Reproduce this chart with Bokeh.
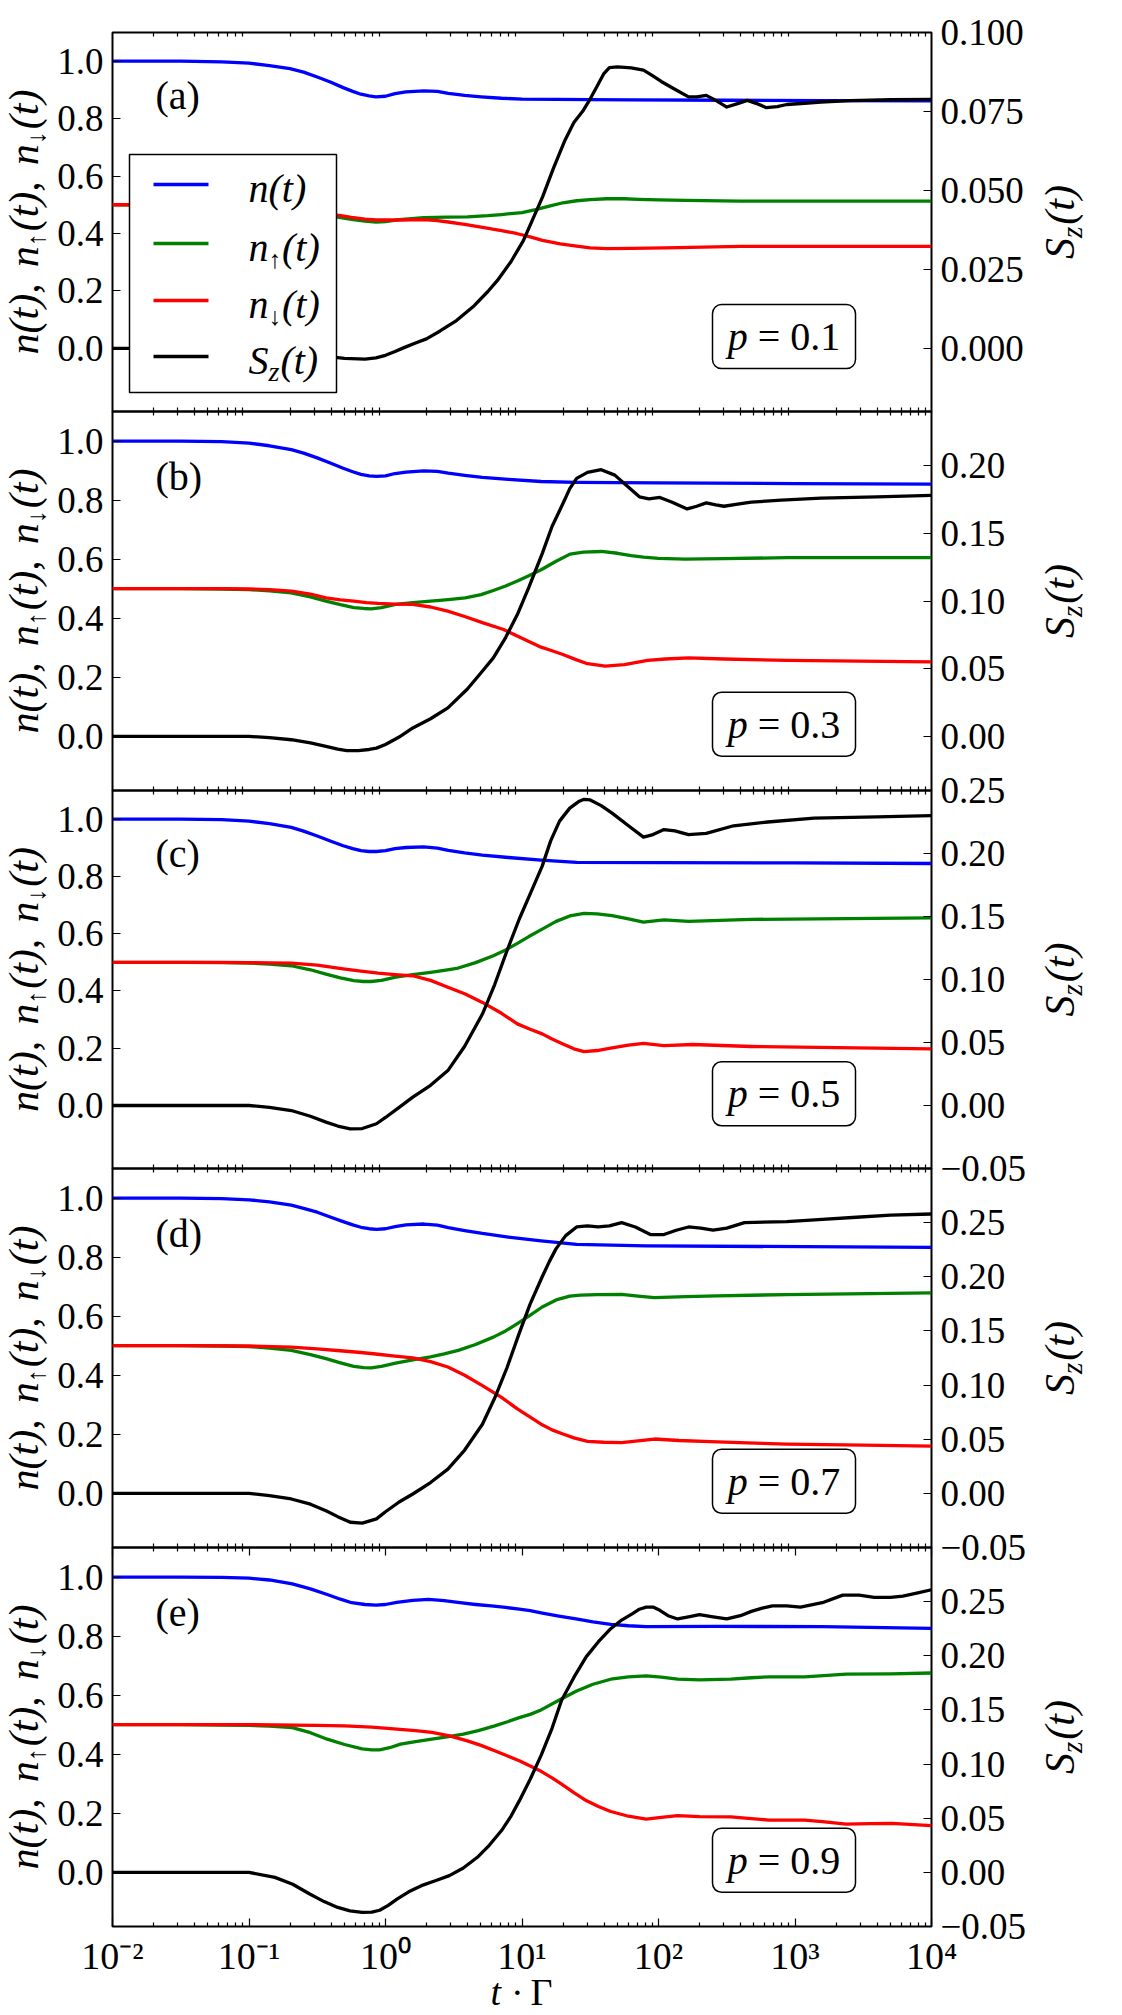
import math
from bokeh.plotting import figure
from bokeh.layouts import column
from bokeh.models import Range1d, LinearAxis, LogAxis, FixedTicker, Label, BoxAnnotation, Arrow
from bokeh.embed import file_html
from bokeh.resources import INLINE

# ---------------------------------------------------------------------------
# Data: sample points are log10(t*Gamma); n, n_up, n_down on the left axis,
# S_z on the right axis.
# ---------------------------------------------------------------------------
p_values = [0.1, 0.3, 0.5, 0.7, 0.9]
panel_tags = ["(a)", "(b)", "(c)", "(d)", "(e)"]

# (a) p = 0.1
lg_a_n = [-2, -1.5, -1.2, -1.0, -0.85, -0.7, -0.6, -0.5, -0.4, -0.31, -0.24, -0.18, -0.12, -0.07, 0.0, 0.07, 0.15,
          0.28, 0.38, 0.46, 0.58, 0.7, 0.85, 1.0, 1.25, 1.5, 1.8, 2.5, 3.2, 4.0]
a_n = [1.0, 1.0, 0.998, 0.993, 0.985, 0.974, 0.962, 0.945, 0.927, 0.908, 0.895, 0.885, 0.879, 0.876, 0.878, 0.887,
       0.893, 0.897, 0.895, 0.888, 0.881, 0.876, 0.871, 0.868, 0.867, 0.866, 0.865, 0.864, 0.863, 0.862]
lg_a_up = [-2, -1.5, -1.2, -1.0, -0.85, -0.7, -0.55, -0.45, -0.35, -0.25, -0.15, -0.07, 0.0, 0.1, 0.28, 0.45, 0.6,
           0.75, 0.85, 1.0, 1.1, 1.2, 1.3, 1.4, 1.5, 1.62, 1.75, 1.85, 2.0, 2.2, 2.6, 3.2, 4.0]
a_up = [0.5, 0.5, 0.499, 0.497, 0.494, 0.488, 0.477, 0.467, 0.457, 0.449, 0.443, 0.44, 0.441, 0.448, 0.455, 0.457,
        0.458, 0.462, 0.466, 0.473, 0.483, 0.495, 0.507, 0.514, 0.518, 0.521, 0.521, 0.519, 0.517, 0.515, 0.513,
        0.513, 0.513]
lg_a_dn = [-2, -1.5, -1.2, -1.0, -0.85, -0.7, -0.55, -0.45, -0.35, -0.25, -0.15, -0.07, 0.1, 0.28, 0.38, 0.46, 0.58,
           0.7, 0.85, 0.96, 1.06, 1.15, 1.28, 1.4, 1.5, 1.62, 1.8, 2.05, 2.6, 3.2, 4.0]
a_dn = [0.5, 0.5, 0.499, 0.498, 0.496, 0.493, 0.484, 0.474, 0.464, 0.456, 0.45, 0.447, 0.447, 0.448, 0.445, 0.44,
        0.432, 0.422, 0.41, 0.4, 0.388, 0.376, 0.364, 0.356, 0.35, 0.347, 0.348, 0.35, 0.355, 0.355, 0.355]
lg_a_sz = [-2, -1.5, -1.0, -0.8, -0.6, -0.45, -0.3, -0.15, -0.07, 0.0, 0.07, 0.14, 0.22, 0.3, 0.4, 0.52, 0.65, 0.75,
           0.82, 0.92, 1.01, 1.08, 1.15, 1.23, 1.315, 1.38, 1.45, 1.5, 1.55, 1.6, 1.64, 1.7, 1.8, 1.89, 1.95, 2.02,
           2.1, 2.22, 2.28, 2.35, 2.42, 2.5, 2.58, 2.65, 2.72, 2.79, 2.87, 2.94, 3.07, 3.19, 3.4, 3.7, 4.0]
a_sz = [0.0, 0.0, 0.0, -0.0005, -0.0015, -0.0025, -0.0032, -0.0034, -0.003, -0.0022, -0.001, 0.0003, 0.0017, 0.003,
        0.0055, 0.0088, 0.0135, 0.018, 0.0215, 0.0275, 0.0341, 0.041, 0.0479, 0.057, 0.0659, 0.0715, 0.0754, 0.079,
        0.083, 0.087, 0.0889, 0.0891, 0.0888, 0.0881, 0.0865, 0.0845, 0.0825, 0.0796, 0.0796, 0.0801, 0.0785, 0.0764,
        0.0775, 0.0785, 0.0775, 0.0762, 0.0765, 0.0772, 0.0776, 0.078, 0.0784, 0.0787, 0.0788]

# (b) p = 0.3
lg_b_n = [-2, -1.5, -1.2, -1.0, -0.85, -0.69, -0.6, -0.5, -0.4, -0.31, -0.24, -0.18, -0.12, -0.066, 0.0, 0.07, 0.15,
          0.28, 0.38, 0.46, 0.58, 0.71, 0.9, 1.14, 1.4, 2.0, 3.0, 4.0]
b_n = [1.0, 1.0, 0.998, 0.993, 0.984, 0.971, 0.959, 0.943, 0.925, 0.908, 0.896, 0.887, 0.882, 0.88, 0.882, 0.89,
       0.895, 0.899, 0.897, 0.891, 0.884, 0.877, 0.87, 0.863, 0.86, 0.858, 0.856, 0.854]
lg_b_up = [-2, -1.5, -1.2, -1.0, -0.85, -0.69, -0.55, -0.436, -0.33, -0.232, -0.16, -0.105, -0.03, 0.074, 0.2, 0.33,
           0.46, 0.584, 0.7, 0.79, 0.88, 0.966, 1.05, 1.14, 1.25, 1.352, 1.45, 1.58, 1.7, 1.8, 1.89, 2.0, 2.196, 2.48,
           2.94, 4.0]
b_up = [0.5, 0.5, 0.499, 0.497, 0.493, 0.486, 0.472, 0.458, 0.446, 0.436, 0.433, 0.432, 0.436, 0.447, 0.453, 0.458,
        0.463, 0.469, 0.48, 0.494, 0.509, 0.526, 0.544, 0.564, 0.593, 0.617, 0.624, 0.626, 0.62, 0.612, 0.607, 0.603,
        0.6, 0.602, 0.605, 0.605]
lg_b_dn = [-2, -1.5, -1.2, -1.0, -0.85, -0.69, -0.55, -0.436, -0.33, -0.232, -0.14, -0.054, 0.07, 0.2, 0.33, 0.456,
           0.58, 0.71, 0.865, 1.0, 1.14, 1.22, 1.3, 1.4, 1.48, 1.61, 1.75, 1.92, 2.05, 2.22, 2.48, 2.94, 4.0]
b_dn = [0.5, 0.5, 0.5, 0.499, 0.497, 0.492, 0.482, 0.469, 0.462, 0.458, 0.453, 0.45, 0.448, 0.447, 0.438, 0.424,
        0.406, 0.385, 0.362, 0.332, 0.302, 0.29, 0.277, 0.259, 0.246, 0.238, 0.243, 0.257, 0.262, 0.266, 0.262, 0.257,
        0.252]
lg_b_sz = [-2, -1.5, -1.0, -0.85, -0.69, -0.55, -0.436, -0.35, -0.283, -0.2, -0.12, -0.066, 0.0, 0.1, 0.2, 0.33,
           0.457, 0.6, 0.7, 0.79, 0.88, 0.966, 1.05, 1.148, 1.22, 1.3, 1.35, 1.4, 1.48, 1.58, 1.68, 1.77, 1.86, 1.93,
           2.01, 2.1, 2.21, 2.28, 2.35, 2.42, 2.48, 2.58, 2.68, 2.9, 3.19, 3.6, 4.0]
b_sz = [0.0, 0.0, 0.0, -0.001, -0.0025, -0.0048, -0.0074, -0.0095, -0.0106, -0.0105, -0.0097, -0.0087, -0.006,
        -0.0005, 0.0062, 0.013, 0.021, 0.035, 0.047, 0.058, 0.073, 0.09, 0.11, 0.135, 0.155, 0.172, 0.183, 0.1906,
        0.195, 0.197, 0.193, 0.185, 0.177, 0.1755, 0.1765, 0.173, 0.168, 0.17, 0.1725, 0.171, 0.17, 0.1715, 0.173,
        0.1745, 0.176, 0.177, 0.178]

# (c) p = 0.5
lg_c_n = [-2, -1.5, -1.2, -1.0, -0.85, -0.69, -0.6, -0.5, -0.4, -0.31, -0.24, -0.18, -0.12, -0.066, 0.0, 0.07, 0.15,
          0.28, 0.38, 0.46, 0.58, 0.71, 0.9, 1.14, 1.4, 2.0, 3.0, 4.0]
c_n = [1.0, 1.0, 0.998, 0.993, 0.984, 0.971, 0.958, 0.941, 0.923, 0.907, 0.897, 0.89, 0.887, 0.887, 0.89, 0.897,
       0.901, 0.903, 0.899, 0.891, 0.882, 0.874, 0.866, 0.857, 0.849, 0.848, 0.847, 0.845]
lg_c_up = [-2, -1.5, -1.2, -1.0, -0.85, -0.69, -0.55, -0.436, -0.33, -0.232, -0.16, -0.105, -0.03, 0.074, 0.2, 0.33,
           0.43, 0.533, 0.66, 0.79, 0.88, 0.966, 1.05, 1.148, 1.25, 1.35, 1.455, 1.55, 1.66, 1.78, 1.89, 2.04, 2.22,
           2.68, 4.0]
c_up = [0.5, 0.5, 0.499, 0.497, 0.494, 0.488, 0.474, 0.459, 0.446, 0.436, 0.433, 0.433, 0.437, 0.448, 0.457, 0.465,
        0.472, 0.48, 0.499, 0.523, 0.543, 0.566, 0.59, 0.616, 0.643, 0.662, 0.671, 0.669, 0.663, 0.652, 0.64, 0.648,
        0.643, 0.65, 0.655]
lg_c_dn = [-2, -1.5, -1.2, -1.0, -0.85, -0.69, -0.5, -0.31, -0.18, -0.054, 0.07, 0.2, 0.33, 0.457, 0.58, 0.71, 0.85,
           0.966, 1.06, 1.148, 1.22, 1.3, 1.38, 1.455, 1.55, 1.66, 1.78, 1.89, 2.04, 2.25, 2.68, 4.0]
c_dn = [0.5, 0.5, 0.5, 0.499, 0.498, 0.497, 0.49, 0.477, 0.469, 0.462, 0.457, 0.453, 0.437, 0.413, 0.39, 0.36, 0.322,
        0.285, 0.266, 0.25, 0.232, 0.215, 0.198, 0.188, 0.192, 0.201, 0.211, 0.217, 0.209, 0.213, 0.206, 0.198]
lg_c_sz = [-2, -1.5, -1.0, -0.85, -0.69, -0.55, -0.436, -0.35, -0.258, -0.17, -0.066, 0.0, 0.1, 0.2, 0.33, 0.457,
           0.58, 0.71, 0.8, 0.89, 0.98, 1.06, 1.148, 1.21, 1.275, 1.35, 1.42, 1.455, 1.5, 1.58, 1.66, 1.78, 1.89,
           1.96, 2.04, 2.12, 2.22, 2.35, 2.55, 2.8, 3.14, 3.6, 4.0]
c_sz = [0.0, 0.0, 0.0, -0.0015, -0.004, -0.0085, -0.0132, -0.0163, -0.0185, -0.0183, -0.0145, -0.0095, -0.0015,
        0.0066, 0.016, 0.0277, 0.047, 0.0726, 0.096, 0.1228, 0.148, 0.168, 0.19, 0.21, 0.2257, 0.236, 0.2415, 0.243,
        0.2425, 0.238, 0.232, 0.222, 0.213, 0.215, 0.219, 0.218, 0.215, 0.216, 0.222, 0.225, 0.228, 0.229, 0.23]

# (d) p = 0.7
lg_d_n = [-2, -1.5, -1.2, -1.0, -0.85, -0.69, -0.6, -0.5, -0.4, -0.31, -0.24, -0.18, -0.12, -0.066, 0.0, 0.07, 0.15,
          0.28, 0.38, 0.46, 0.58, 0.71, 0.9, 1.14, 1.4, 1.91, 4.0]
d_n = [1.0, 1.0, 0.998, 0.994, 0.987, 0.976, 0.965, 0.952, 0.935, 0.92, 0.909, 0.901, 0.896, 0.894, 0.896, 0.903,
       0.909, 0.912, 0.908, 0.9, 0.89, 0.88, 0.868, 0.855, 0.843, 0.838, 0.833]
lg_d_up = [-2, -1.5, -1.2, -1.0, -0.85, -0.69, -0.55, -0.436, -0.33, -0.232, -0.16, -0.105, -0.03, 0.074, 0.2, 0.33,
           0.43, 0.533, 0.66, 0.79, 0.88, 0.966, 1.05, 1.148, 1.25, 1.35, 1.43, 1.55, 1.73, 1.85, 1.97, 2.2, 2.43,
           2.94, 4.0]
d_up = [0.5, 0.5, 0.499, 0.497, 0.492, 0.484, 0.47, 0.456, 0.442, 0.43, 0.426, 0.425, 0.43, 0.441, 0.452, 0.462,
        0.472, 0.484, 0.504, 0.529, 0.55, 0.575, 0.6, 0.631, 0.655, 0.668, 0.671, 0.673, 0.674, 0.668, 0.663, 0.666,
        0.669, 0.673, 0.679]
lg_d_dn = [-2, -1.5, -1.0, -0.69, -0.5, -0.31, -0.18, -0.054, 0.07, 0.2, 0.33, 0.457, 0.58, 0.71, 0.85, 0.966, 1.06,
           1.148, 1.22, 1.3, 1.38, 1.48, 1.6, 1.73, 1.85, 1.97, 2.15, 2.38, 2.65, 2.94, 3.5, 4.0]
d_dn = [0.5, 0.5, 0.499, 0.495, 0.489, 0.482, 0.477, 0.471, 0.465, 0.459, 0.446, 0.428, 0.4, 0.365, 0.325, 0.286,
        0.258, 0.232, 0.215, 0.201, 0.188, 0.176, 0.173, 0.172, 0.178, 0.184, 0.179, 0.175, 0.171, 0.167, 0.163, 0.16]
lg_d_sz = [-2, -1.5, -1.0, -0.85, -0.69, -0.55, -0.436, -0.35, -0.258, -0.17, -0.066, 0.0, 0.1, 0.2, 0.33, 0.457,
           0.58, 0.71, 0.8, 0.89, 0.98, 1.06, 1.148, 1.2, 1.25, 1.32, 1.4, 1.48, 1.557, 1.64, 1.73, 1.83, 1.94, 2.04,
           2.13, 2.22, 2.31, 2.4, 2.5, 2.63, 2.94, 3.2, 3.45, 3.7, 4.0]
d_sz = [0.0, 0.0, 0.0, -0.002, -0.0052, -0.01, -0.016, -0.0215, -0.0267, -0.0275, -0.0236, -0.017, -0.008, -0.0006,
        0.01, 0.0224, 0.04, 0.0638, 0.088, 0.116, 0.148, 0.175, 0.2, 0.214, 0.226, 0.238, 0.246, 0.247, 0.246, 0.247,
        0.25, 0.246, 0.239, 0.239, 0.243, 0.246, 0.245, 0.243, 0.245, 0.25, 0.251, 0.253, 0.255, 0.257, 0.258]

# (e) p = 0.9
lg_e_n = [-2, -1.5, -1.2, -1.0, -0.85, -0.683, -0.55, -0.427, -0.33, -0.248, -0.15, -0.069, 0.0, 0.082, 0.2, 0.315,
          0.43, 0.545, 0.66, 0.775, 0.88, 0.98, 1.06, 1.14, 1.27, 1.396, 1.52, 1.65, 1.78, 1.91, 2.42, 3.2, 4.0]
e_n = [1.0, 1.0, 0.999, 0.996, 0.99, 0.977, 0.96, 0.941, 0.925, 0.913, 0.907, 0.905, 0.907, 0.914, 0.921, 0.924,
       0.92, 0.913, 0.907, 0.902, 0.897, 0.891, 0.886, 0.879, 0.868, 0.858, 0.848, 0.84, 0.835, 0.832, 0.833, 0.832,
       0.826]
lg_e_up = [-2, -1.5, -1.2, -1.0, -0.85, -0.683, -0.55, -0.427, -0.3, -0.171, -0.1, -0.043, 0.03, 0.11, 0.22, 0.34,
           0.45, 0.57, 0.68, 0.8, 0.9, 0.98, 1.06, 1.14, 1.27, 1.4, 1.52, 1.65, 1.78, 1.91, 2.02, 2.14, 2.3, 2.53,
           2.68, 2.81, 3.07, 3.375, 3.7, 4.0]
e_up = [0.5, 0.5, 0.499, 0.498, 0.495, 0.49, 0.473, 0.451, 0.433, 0.418, 0.415, 0.415, 0.422, 0.434, 0.443, 0.451,
        0.459, 0.468, 0.48, 0.496, 0.511, 0.524, 0.535, 0.55, 0.583, 0.614, 0.637, 0.654, 0.662, 0.665, 0.661, 0.654,
        0.652, 0.654, 0.659, 0.662, 0.662, 0.671, 0.672, 0.675]
lg_e_dn = [-2, -1.5, -1.0, -0.5, -0.3, -0.1, 0.084, 0.22, 0.34, 0.47, 0.6, 0.7, 0.8, 0.9, 0.98, 1.06, 1.14, 1.22,
           1.29, 1.38, 1.47, 1.56, 1.65, 1.78, 1.91, 2.02, 2.14, 2.3, 2.53, 2.68, 2.81, 3.07, 3.2, 3.375, 3.55, 3.71,
           4.0]
e_dn = [0.5, 0.5, 0.5, 0.498, 0.496, 0.492, 0.485, 0.48, 0.474, 0.462, 0.445, 0.43, 0.412, 0.393, 0.378, 0.36,
        0.342, 0.32, 0.299, 0.27, 0.243, 0.223, 0.206, 0.19, 0.18, 0.186, 0.192, 0.189, 0.188, 0.182, 0.177, 0.177,
        0.172, 0.163, 0.165, 0.166, 0.158]
lg_e_sz = [-2, -1.5, -1.0, -0.81, -0.68, -0.555, -0.45, -0.35, -0.26, -0.171, -0.1, -0.043, 0.02, 0.084, 0.17, 0.263,
           0.37, 0.468, 0.57, 0.673, 0.76, 0.85, 0.92, 0.98, 1.06, 1.14, 1.22, 1.29, 1.38, 1.47, 1.56, 1.65, 1.73,
           1.81, 1.86, 1.91, 1.96, 2.01, 2.07, 2.14, 2.22, 2.3, 2.4, 2.5, 2.6, 2.68, 2.76, 2.835, 2.94, 3.04, 3.2,
           3.35, 3.47, 3.58, 3.7, 3.79, 3.9, 4.0]
e_sz = [0.0, 0.0, 0.0, -0.0046, -0.011, -0.02, -0.027, -0.0324, -0.0355, -0.037, -0.0368, -0.035, -0.0305, -0.0247,
        -0.018, -0.0123, -0.0075, -0.003, 0.004, 0.0139, 0.025, 0.0386, 0.052, 0.066, 0.086, 0.108, 0.133, 0.159,
        0.18, 0.199, 0.213, 0.225, 0.233, 0.239, 0.243, 0.245, 0.245, 0.242, 0.237, 0.234, 0.236, 0.238, 0.236, 0.234,
        0.237, 0.241, 0.244, 0.246, 0.246, 0.245, 0.249, 0.256, 0.256, 0.254, 0.254, 0.255, 0.258, 0.261]

# right-axis (S_z) limits and ticks of each panel
sz_ranges = [(-0.02, 0.10), (-0.04, 0.24), (-0.05, 0.25), (-0.05, 0.30), (-0.05, 0.30)]
sz_ticks = [
    [0.0, 0.025, 0.05, 0.075, 0.1],
    [0.0, 0.05, 0.1, 0.15, 0.2],
    [-0.05, 0.0, 0.05, 0.1, 0.15, 0.2, 0.25],
    [-0.05, 0.0, 0.05, 0.1, 0.15, 0.2, 0.25],
    [-0.05, 0.0, 0.05, 0.1, 0.15, 0.2, 0.25],
]
sz_decimals = [3, 2, 2, 2, 2]
n_ticks = [0.0, 0.2, 0.4, 0.6, 0.8, 1.0]
x_major = [0.01, 0.1, 1, 10, 100, 1000, 10000]
x_major_labels = ["10\u207b\u00b2", "10\u207b\u00b9", "10\u2070", "10\u00b9", "10\u00b2", "10\u00b3", "10\u2074"]

panels = [
    (lg_a_n, a_n, lg_a_up, a_up, lg_a_dn, a_dn, lg_a_sz, a_sz),
    (lg_b_n, b_n, lg_b_up, b_up, lg_b_dn, b_dn, lg_b_sz, b_sz),
    (lg_c_n, c_n, lg_c_up, c_up, lg_c_dn, c_dn, lg_c_sz, c_sz),
    (lg_d_n, d_n, lg_d_up, d_up, lg_d_dn, d_dn, lg_d_sz, d_sz),
    (lg_e_n, e_n, lg_e_up, e_up, lg_e_dn, e_dn, lg_e_sz, e_sz),
]

# ---------------------------------------------------------------------------
# Styling / layout constants
# ---------------------------------------------------------------------------
SERIF = "Liberation Serif, serif"
PAGE_W, PAGE_H = 1122, 2015
N_HI = 1.1
FRAME_W = 819
FRAME_H = [379, 379, 378, 379, 379]
FRAME_TOP = [32, 411, 790, 1168, 1547]
BORDER_L, BORDER_R = 112, 191
TOP_FIRST, BOTTOM_LAST, PAD = 32, 89, 24
TICK_PX = "37px"
LW = 3.3

# Times-metric advance widths (em units), used to lay out composed math labels
W_IT = {"n": .5, "t": .278, "(": .333, ")": .333, ",": .25, " ": .25, "S": .5, "z": .389, "p": .5}
W_RM = {".": .25, " ": .25, "=": .564, "(": .333, ")": .333, "a": .444, "b": .5, "c": .444,
        "d": .5, "e": .444, "\u00b7": .25, "\u0393": .578, "\u2191": .5, "\u2193": .5}


def text_w(s, size, italic):
    table = W_IT if italic else W_RM
    return sum(table.get(ch, .5) for ch in s) * size


def run_len(run):
    return sum(i if isinstance(i, (int, float)) else text_w(i[0], i[1], i[2]) for i in run)


def put_run(p, run, x, y, angle=0.0):
    """Place text pieces (text, size, italic, drop) or gaps (px) one after another.
    x, y are screen offsets from the frame's lower-left corner; pieces are centred
    on the run's middle line, `drop` moves a piece towards the glyph bottom."""
    for item in run:
        if isinstance(item, (int, float)):
            if angle == 0:
                x += item
            else:
                y += item
            continue
        text, size, italic, drop = item
        lx, ly = (x, y - drop) if angle == 0 else (x + drop, y)
        p.add_layout(Label(x=lx, y=ly, x_units="screen", y_units="screen", text=text, angle=angle,
                           text_font=SERIF, text_font_size=f"{size}px",
                           text_font_style="italic" if italic else "normal",
                           text_align="left", text_baseline="middle", text_color="black"))
        adv = text_w(text, size, italic)
        if angle == 0:
            x += adv
        else:
            y += adv


left_run = [("n(t),", 42, True, 0), 16, ("n", 42, True, 0), ("\u2191", 26, False, 13), 2,
            ("(t),", 42, True, 0), 16, ("n", 42, True, 0), ("\u2193", 26, False, 13), 2, ("(t)", 42, True, 0)]
right_run = [("S", 42, True, 0), ("z", 29, True, 12), 2, ("(t)", 42, True, 0)]
legend_runs = [
    [("n(t)", 40, True, 0)],
    [("n", 40, True, 0), ("\u2191", 25, False, 12), 1, ("(t)", 40, True, 0)],
    [("n", 40, True, 0), ("\u2193", 25, False, 12), 1, ("(t)", 40, True, 0)],
    [("S", 40, True, 0), ("z", 28, True, 11), 1, ("(t)", 40, True, 0)],
]
xlabel_run = [("t", 38, True, 0), 10, ("\u00b7", 38, False, 0), 10, ("\u0393", 38, False, 0)]

x_minor = [k * 10.0 ** d for d in range(-2, 4) for k in range(2, 10)]

colors = ["#0000ff", "#008000", "#ff0000"]
figs = []
for i, data in enumerate(panels):
    first, last = i == 0, i == len(panels) - 1
    H = FRAME_H[i]
    s_lo, s_hi = sz_ranges[i]
    r = -s_lo / (s_hi - s_lo)
    n_lo = -N_HI * r / (1 - r)          # zero of both axes at the same height

    p = figure(x_axis_type="log", x_range=Range1d(1e-2, 1e4), y_range=Range1d(n_lo, N_HI),
               frame_width=FRAME_W, frame_height=H,
               min_border_left=BORDER_L, min_border_right=BORDER_R,
               min_border_top=TOP_FIRST if first else PAD,
               min_border_bottom=BOTTOM_LAST if last else PAD,
               margin=(0 if first else -2 * PAD, 0, 0, 0),
               toolbar_location=None, output_backend="svg",
               background_fill_color=None, border_fill_color=None,
               outline_line_color="black", outline_line_width=2)
    p.grid.visible = False
    p.extra_y_ranges = {"sz": Range1d(s_lo, s_hi)}

    # x axes (bottom and top)
    xb = p.xaxis[0]
    xt = LogAxis()
    p.add_layout(xt, "above")
    for ax in (xb, xt):
        ax.ticker = FixedTicker(ticks=x_major if last else [], minor_ticks=x_minor)
        ax.axis_line_color = None
        ax.major_tick_in, ax.major_tick_out = 8, 0
        ax.minor_tick_in, ax.minor_tick_out = 4, 0
        ax.major_tick_line_color = "black"
        ax.minor_tick_line_color = "black"
        ax.major_tick_line_width = 1.2
        ax.minor_tick_line_width = 1.2
        ax.major_label_text_font = SERIF
        ax.major_label_text_color = "black"
    xt.major_label_overrides = {v: "" for v in x_major}
    xt.major_label_text_font_size = "2px"
    xt.major_label_standoff = 0
    if last:
        xb.major_label_overrides = dict(zip(x_major, x_major_labels))
        xb.major_label_text_font_size = "38px"
        xb.major_label_standoff = 8
    else:
        xb.major_label_text_font_size = "2px"
        xb.major_label_standoff = 0

    # left axis
    yl = p.yaxis[0]
    yl.ticker = FixedTicker(ticks=n_ticks)
    yl.major_label_overrides = {v: f"{v:.1f}" for v in n_ticks}
    # right axis
    yr = LinearAxis(y_range_name="sz")
    p.add_layout(yr, "right")
    yr.ticker = FixedTicker(ticks=sz_ticks[i])
    yr.major_label_overrides = {v: f"{v:.{sz_decimals[i]}f}".replace("-", "\u2212") for v in sz_ticks[i]}
    for ax in (yl, yr):
        ax.axis_line_color = None
        ax.major_tick_in, ax.major_tick_out = 8, 0
        ax.minor_tick_in, ax.minor_tick_out = 0, 0
        ax.major_tick_line_color = "black"
        ax.major_tick_line_width = 1.2
        ax.major_label_text_font = SERIF
        ax.major_label_text_font_size = TICK_PX
        ax.major_label_text_color = "black"
        ax.major_label_standoff = 9

    # curves
    lg_n, v_n, lg_up, v_up, lg_dn, v_dn, lg_sz, v_sz = data
    for lg, vals, col in ((lg_n, v_n, colors[0]), (lg_up, v_up, colors[1]), (lg_dn, v_dn, colors[2])):
        p.line([10 ** e for e in lg], vals, line_color=col, line_width=LW, line_join="round")
    p.line([10 ** e for e in lg_sz], v_sz, line_color="black", line_width=LW, line_join="round",
           y_range_name="sz")

    # panel tag
    p.add_layout(Label(x=43, y=0.88, x_units="screen", y_units="data", text=panel_tags[i],
                       text_font=SERIF, text_font_size="40px", text_align="left",
                       text_baseline="middle", text_color="black"))

    # p = ... box
    yc = (0.041 - n_lo) / (N_HI - n_lo) * H
    p.add_layout(BoxAnnotation(left=600, right=743, bottom=yc - 32, top=yc + 32,
                               left_units="screen", right_units="screen",
                               bottom_units="screen", top_units="screen",
                               fill_color="white", fill_alpha=1.0, line_color="black",
                               line_alpha=1.0, line_width=1.5, border_radius=9))
    p_run = [("p", 40, True, 0), 10, (f"= {p_values[i]}", 40, False, 0)]
    put_run(p, p_run, 671.5 - run_len(p_run) / 2, yc)

    if first:
        # legend frame and line samples (text goes on the overlay)
        p.add_layout(BoxAnnotation(left=17, right=224, bottom=19, top=257,
                                   left_units="screen", right_units="screen",
                                   bottom_units="screen", top_units="screen",
                                   fill_color="white", fill_alpha=1.0, line_color="black",
                                   line_alpha=1.0, line_width=1.5))
        for yy, col in zip([227, 168, 111, 55], colors + ["black"]):
            p.add_layout(Arrow(end=None, x_start=41, y_start=yy, x_end=96, y_end=yy,
                               start_units="screen", end_units="screen",
                               line_color=col, line_width=LW))

    figs.append(p)

# transparent full-page layer for the composed axis titles and legend entries
ov = figure(frame_width=PAGE_W, frame_height=PAGE_H, x_range=Range1d(0, PAGE_W), y_range=Range1d(0, PAGE_H),
            x_axis_location=None, y_axis_location=None, title=None,
            min_border=0, min_border_left=0, min_border_right=0, min_border_top=0, min_border_bottom=0,
            margin=(-PAGE_H, 0, 0, 0), toolbar_location=None, output_backend="svg",
            background_fill_color=None, border_fill_color=None, outline_line_color=None)
ov.grid.visible = False

for i in range(len(panels)):
    yc_up = PAGE_H - (FRAME_TOP[i] + FRAME_H[i] / 2)
    put_run(ov, left_run, 23, yc_up - run_len(left_run) / 2, angle=math.pi / 2)
    put_run(ov, right_run, 1059, yc_up - run_len(right_run) / 2, angle=math.pi / 2)

for cy, rr in zip([187.5, 246.5, 303.5, 359.5], legend_runs):
    put_run(ov, rr, 248, PAGE_H - cy)

put_run(ov, xlabel_run, 521 - run_len(xlabel_run) / 2, PAGE_H - 1991)

panel_stack = column(*figs, spacing=0)
layout = column(panel_stack, column(ov), spacing=0)
open("out.html", "w").write(file_html(layout, INLINE, "Relaxation dynamics"))
